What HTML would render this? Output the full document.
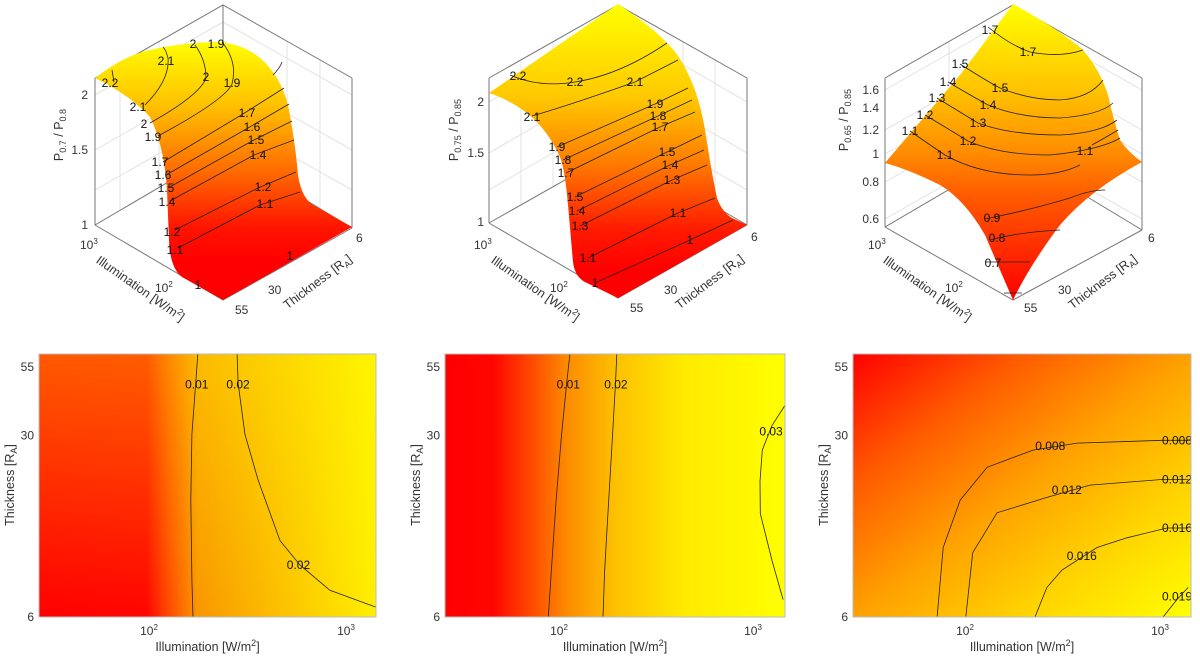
<!DOCTYPE html>
<html><head><meta charset="utf-8">
<style>
html,body{margin:0;padding:0;background:#fff;}
svg{display:block;font-family:"Liberation Sans",Arial,sans-serif;}
.tk{font-size:12px;fill:#333;}
.al{font-size:12.5px;fill:#333;}
.cl{font-size:12px;fill:#111;}
.box{stroke:#777;stroke-width:1;fill:none;}
.grid{stroke:#ddd;stroke-width:0.8;fill:none;}
.ct{stroke:#222;stroke-width:0.8;fill:none;}
</style></head>
<body>
<svg id="fig" width="1200" height="660" viewBox="0 0 1200 660">
<defs>
<linearGradient id="s1" x1="0" y1="40" x2="0" y2="260" gradientUnits="userSpaceOnUse">
<stop offset="0" stop-color="#ffff00"/><stop offset="0.3" stop-color="#ffc000"/><stop offset="0.6" stop-color="#ff6a00"/><stop offset="0.85" stop-color="#ff1500"/><stop offset="1" stop-color="#ff0000"/></linearGradient>
<linearGradient id="s2" x1="0" y1="5" x2="0" y2="270" gradientUnits="userSpaceOnUse">
<stop offset="0" stop-color="#ffff00"/><stop offset="0.35" stop-color="#ffc800"/><stop offset="0.6" stop-color="#ff7a00"/><stop offset="0.85" stop-color="#ff1a00"/><stop offset="1" stop-color="#ff0000"/></linearGradient>
<linearGradient id="s3" x1="0" y1="5" x2="0" y2="300" gradientUnits="userSpaceOnUse">
<stop offset="0" stop-color="#ffff00"/><stop offset="0.3" stop-color="#ffc000"/><stop offset="0.5" stop-color="#ff8c00"/><stop offset="0.65" stop-color="#ff5a00"/><stop offset="1" stop-color="#ff0000"/></linearGradient>
<linearGradient id="h1" x1="0" y1="0" x2="1" y2="0">
<stop offset="0" stop-color="#ff0000"/><stop offset="0.32" stop-color="#ff0500"/><stop offset="0.38" stop-color="#ff4500"/><stop offset="0.47" stop-color="#fa9600"/><stop offset="0.62" stop-color="#fbb000"/><stop offset="0.82" stop-color="#fdd200"/><stop offset="1" stop-color="#fff000"/></linearGradient>
<linearGradient id="h1v" x1="0" y1="0" x2="0" y2="1">
<stop offset="0" stop-color="#ffff00" stop-opacity="0.35"/><stop offset="1" stop-color="#ffff00" stop-opacity="0"/></linearGradient>
<linearGradient id="h2" x1="0" y1="0" x2="1" y2="0">
<stop offset="0" stop-color="#ff0000"/><stop offset="0.14" stop-color="#ff0500"/><stop offset="0.22" stop-color="#ff3500"/><stop offset="0.36" stop-color="#fd8c00"/><stop offset="0.5" stop-color="#fdc000"/><stop offset="0.7" stop-color="#ffea00"/><stop offset="1" stop-color="#ffff00"/></linearGradient>
<linearGradient id="h3" x1="0" y1="0" x2="1" y2="1">
<stop offset="0" stop-color="#ff0000"/><stop offset="0.25" stop-color="#ff5a00"/><stop offset="0.5" stop-color="#ffa000"/><stop offset="0.75" stop-color="#ffd400"/><stop offset="1" stop-color="#ffff00"/></linearGradient>
</defs>

<!-- ===== 3D panel 1 ===== -->
<g>
<g class="grid"><path d="M95,95 L223,22 L352,95 M95,150 L223,77 L352,150 M95,190 L223,117 L352,190 M159,42 L159,188 M287,42 L287,190 M120,64 L120,211 M320,60 L320,210"/></g>
<path class="box" d="M95,78 L223,5 L352,78 M95,78 L95,225 M352,78 L352,228 M95,225 L223,150 L352,228 M223,5 L223,150 M95,225 L223,300 L352,228"/>
<path fill="url(#s1)" d="M95,78 Q125,55 150,50 Q185,42 220,42 Q245,45 260,58 Q280,75 288,105 Q295,140 298,175 Q302,200 315,206 L352,227 L223,300 L182,277 Q170,268 169,240 L167,190 Q164,145 150,117 Q130,95 95,78 Z"/>
<path class="ct" d="M163,162 L243,114 L284,88 M166,175 L248,128 L289,104 M168,188 L252,141 L292,121 M170,201 L254,155 L294,140 M175,230 L258,188 L296,172 M178,248 L260,205 L300,192 M145,105 Q170,80 168,58 Q166,50 163,47 M150,123 Q200,95 206,78 Q206,60 195,45 M158,136 Q225,100 232,84 Q238,62 222,42 M112,70 L114,82 M273,75 Q280,68 282,62"/>
<g id="lab3d1"></g>
<text class="tk" x="88" y="99" text-anchor="end">2</text>
<text class="tk" x="88" y="154" text-anchor="end">1.5</text>
<text class="tk" x="88" y="229" text-anchor="end">1</text>
<text class="al" transform="translate(63,135) rotate(-90)" text-anchor="middle">P<tspan font-size="9" dy="3">0.7</tspan><tspan dy="-3"> / P</tspan><tspan font-size="9" dy="3">0.8</tspan></text>
<text class="tk" x="80" y="249">10<tspan font-size="8" dy="-5">3</tspan></text>
<text class="tk" x="155" y="292">10<tspan font-size="8" dy="-5">2</tspan></text>
<text class="tk" x="356" y="242">6</text>
<text class="tk" x="268" y="294">30</text>
<text class="tk" x="235" y="314">55</text>
<text class="al" transform="translate(138,292) rotate(35)" text-anchor="middle">Illumination [W/m<tspan font-size="9" dy="-5">2</tspan><tspan dy="5">]</tspan></text>
<text class="al" transform="translate(320,285) rotate(-37)" text-anchor="middle">Thickness [R<tspan font-size="9" dy="3">A</tspan><tspan dy="-3">]</tspan></text>
</g>

<!-- ===== 3D panel 2 ===== -->
<g>
<g class="grid"><path d="M489,102 L618,27 L747,102 M489,153 L618,78 L747,153 M489,190 L618,115 L747,190 M553,42 L553,188 M683,42 L683,188 M521,62 L521,205 M715,60 L715,208"/></g>
<path class="box" d="M489,78 L618,5 L747,78 M489,78 L489,223 M747,78 L747,225 M489,223 L618,150 L747,225 M618,5 L618,150 M489,223 L618,298 L747,225"/>
<path fill="url(#s2)" d="M489,93 L618,4 Q650,25 667,43 Q680,55 690,78 Q700,100 705,130 Q712,175 717,198 Q722,212 732,218 L747,225 L618,298 L587,283 Q575,278 573,262 L568,205 Q565,170 560,157 Q548,130 527,113 Q510,100 489,93 Z"/>
<path class="ct" d="M510,75 Q540,88 575,82 Q620,75 667,43 M532,116 Q570,105 635,82 L678,60 M557,147 L655,104 L688,88 M563,160 L658,116 L692,100 M566,173 L660,127 L695,112 M575,197 L667,152 L702,135 M577,211 L670,165 L704,150 M580,226 L672,180 L707,165 M588,258 L678,213 L715,198 M595,283 L690,240 L733,220"/>
<g id="lab3d2"></g>
<text class="tk" x="484" y="106" text-anchor="end">2</text>
<text class="tk" x="484" y="157" text-anchor="end">1.5</text>
<text class="tk" x="484" y="226" text-anchor="end">1</text>
<text class="al" transform="translate(458,130) rotate(-90)" text-anchor="middle">P<tspan font-size="9" dy="3">0.75</tspan><tspan dy="-3"> / P</tspan><tspan font-size="9" dy="3">0.85</tspan></text>
<text class="tk" x="474" y="249">10<tspan font-size="8" dy="-5">3</tspan></text>
<text class="tk" x="550" y="292">10<tspan font-size="8" dy="-5">2</tspan></text>
<text class="tk" x="751" y="241">6</text>
<text class="tk" x="664" y="294">30</text>
<text class="tk" x="630" y="312">55</text>
<text class="al" transform="translate(533,292) rotate(35)" text-anchor="middle">Illumination [W/m<tspan font-size="9" dy="-5">2</tspan><tspan dy="5">]</tspan></text>
<text class="al" transform="translate(712,285) rotate(-37)" text-anchor="middle">Thickness [R<tspan font-size="9" dy="3">A</tspan><tspan dy="-3">]</tspan></text>
</g>

<!-- ===== 3D panel 3 ===== -->
<g>
<g class="grid"><path d="M885,90 L1013,17 L1142,90 M885,130 L1013,57 L1142,130 M885,154 L1013,81 L1142,154 M885,182 L1013,109 L1142,182 M885,219 L1013,146 L1142,219 M949,42 L949,188 M1078,42 L1078,190"/></g>
<path class="box" d="M885,78 L1013,5 L1142,78 M885,78 L885,227 M1142,78 L1142,230 M885,227 L1013,152 L1142,230 M1013,5 L1013,152 M885,227 L1013,300 L1142,230"/>
<path fill="url(#s3)" d="M1013,4 Q1060,30 1083,50 Q1100,70 1108,95 Q1115,125 1120,140 Q1128,152 1142,162 Q1090,190 1060,225 Q1030,265 1013,300 Q1000,270 985,235 Q965,200 940,185 Q910,170 885,163 Q930,110 960,75 Q990,35 1013,4 Z"/>
<path class="ct" d="M988,27 Q1010,45 1030,52 Q1060,58 1083,50 M960,64 Q985,80 1000,88 Q1030,100 1060,100 Q1090,98 1103,80 M948,82 Q970,95 988,105 Q1020,118 1060,118 Q1100,115 1113,103 M937,98 Q960,112 978,123 Q1010,135 1060,135 Q1100,133 1117,120 M925,115 Q950,130 968,141 Q1000,155 1050,155 Q1100,150 1120,138 M910,131 Q930,145 945,155 Q980,175 1030,175 Q1060,175 1080,165 M1092,145 Q1110,135 1118,130 M985,219 Q1030,210 1070,198 Q1090,190 1105,190 M990,240 Q1020,232 1060,230 M985,262 L1030,262 M1004,293 L1022,293"/>
<g id="lab3d3"></g>
<text class="tk" x="879" y="94" text-anchor="end">1.6</text>
<text class="tk" x="879" y="112" text-anchor="end">1.4</text>
<text class="tk" x="879" y="134" text-anchor="end">1.2</text>
<text class="tk" x="879" y="158" text-anchor="end">1</text>
<text class="tk" x="879" y="186" text-anchor="end">0.8</text>
<text class="tk" x="879" y="223" text-anchor="end">0.6</text>
<text class="al" transform="translate(848,120) rotate(-90)" text-anchor="middle">P<tspan font-size="9" dy="3">0.65</tspan><tspan dy="-3"> / P</tspan><tspan font-size="9" dy="3">0.85</tspan></text>
<text class="tk" x="868" y="249">10<tspan font-size="8" dy="-5">3</tspan></text>
<text class="tk" x="945" y="292">10<tspan font-size="8" dy="-5">2</tspan></text>
<text class="tk" x="1148" y="242">6</text>
<text class="tk" x="1058" y="294">30</text>
<text class="tk" x="1024" y="312">55</text>
<text class="al" transform="translate(925,292) rotate(35)" text-anchor="middle">Illumination [W/m<tspan font-size="9" dy="-5">2</tspan><tspan dy="5">]</tspan></text>
<text class="al" transform="translate(1105,285) rotate(-37)" text-anchor="middle">Thickness [R<tspan font-size="9" dy="3">A</tspan><tspan dy="-3">]</tspan></text>
</g>

<g id="heat1"></g>
<g id="heat2"></g>
<g id="heat3"></g>
</svg>

<script>
// ---- 3D contour labels (text, x, y) ----
const labels3d1 = [["2.2",110,87],["2.1",166,65],["2",193,48],["1.9",216,48],["2",206,81],["1.9",232,87],["2.1",138,111],["2",144,128],["1.9",153,141],["1.7",247,117],["1.6",252,131],["1.5",256,144],["1.4",258,159],["1.7",160,166],["1.6",163,179],["1.5",166,192],["1.4",167,206],["1.2",263,191],["1.1",265,208],["1.2",172,236],["1.1",175,254],["1",198,289],["1",290,260]];
const labels3d2 = [["2.2",518,80],["2.2",575,86],["2.1",635,86],["2.1",532,121],["1.9",655,108],["1.8",658,120],["1.7",660,131],["1.9",557,151],["1.8",563,164],["1.7",566,177],["1.5",667,156],["1.4",670,169],["1.3",672,184],["1.5",575,201],["1.4",577,215],["1.3",580,230],["1.1",678,217],["1",690,244],["1.1",588,262],["1",595,287]];
const labels3d3 = [["1.7",990,34],["1.7",1028,56],["1.5",960,68],["1.5",1000,92],["1.4",948,86],["1.4",988,109],["1.3",937,102],["1.3",978,127],["1.2",925,119],["1.2",968,145],["1.1",910,135],["1.1",945,159],["1.1",1085,155],["0.9",992,222],["0.8",997,242],["0.7",993,267]];

// ---- Heatmap 1 contours: [illumination W/m2, thickness RA] ----
const h1c001 = [[165,61.6],[161,47.6],[154,30.3],[152,16.9],[154,8.3],[156,6]];
const h1c002 = [[261,61.6],[264,47.6],[286,30.3],[333,20.3],[431,11.8],[545,9.5],[772,7.6],[1323,6.55]];
const h1labels = [["0.01",163,47],["0.02",264,47],["0.02",535,9.5]];
// ---- Heatmap 2 contours ----
const h2c001 = [[106,61.6],[102,47.6],[96,30.3],[90,16.9],[85,9],[82,6]];
const h2c002 = [[185,61.6],[182,47.6],[176,30.3],[168,16.9],[160,9],[157,6]];
const h2c003 = [[1362,39.1],[1167,32.7],[1040,26.3],[1012,20],[1015,15],[1167,9.9],[1331,7.0]];
const h2labels = [["0.01",104,47],["0.02",183,47],["0.03",1170,31]];
// ---- Heatmap 3 contours ----
const h3c008 = [[67,6],[72,11.1],[88,16.9],[121,22.6],[208,26.3],[350,28],[966,28.7],[1300,28.7]];
const h3c012 = [[94,6],[102,10.6],[136,15.1],[245,17.3],[407,19.3],[966,20.3],[1300,20.3]];
const h3c016 = [[213,6],[245,7.8],[293,9.1],[443,11.1],[631,12.1],[1012,13.2],[1300,13.2]];
const h3c019 = [[966,6],[1138,7.0],[1300,7.8]];
const h3labels = [["0.008",255,27.3],["0.008",1180,28.7],["0.012",310,18.5],["0.012",1190,20.3],["0.016",370,10.3],["0.016",1200,13.2],["0.019",1200,7.2]];

const yTicks = [55,30,6];
const xTicks = [100,1000];
const NS = "http://www.w3.org/2000/svg";

function mk(tag, attrs, parent){
  const e = document.createElementNS(NS, tag);
  for (const k in attrs) e.setAttribute(k, attrs[k]);
  parent.appendChild(e);
  return e;
}

function draw3dLabels(id, arr){
  const g = document.getElementById(id);
  arr.forEach(l => {
    const t = mk('text', {x:l[1], y:l[2], 'class':'cl', 'text-anchor':'middle'}, g);
    
    
    t.textContent = l[0];
  });
}
draw3dLabels('lab3d1', labels3d1);
draw3dLabels('lab3d2', labels3d2);
draw3dLabels('lab3d3', labels3d3);

function heat(id, x0, x1, pxAt100, pxPerDec, grad, contours, labels, overlay){
  const g = document.getElementById(id);
  const y0 = 354, y1 = 617;
  const sx = v => pxAt100 + (Math.log10(v) - 2) * pxPerDec;
  const sy = t => y1 - (Math.log10(t) - Math.log10(6)) * 260;
  const cp = mk('clipPath', {id: id + 'clip'}, g);
  mk('rect', {x:x0, y:y0, width:x1-x0, height:y1-y0}, cp);
  const bg = mk('rect', {x:x0, y:y0, width:x1-x0, height:y1-y0, fill:'url(#' + grad + ')'}, g);
  
  
  if (overlay) mk('rect', {x:x0, y:y0, width:x1-x0, height:y1-y0, fill:'url(#' + overlay + ')'}, g);
  const cg = mk('g', {'clip-path':'url(#' + id + 'clip)'}, g);
  contours.forEach(c => {
    const d = c.map((p,i) => (i ? 'L' : 'M') + sx(p[0]).toFixed(1) + ',' + sy(p[1]).toFixed(1)).join(' ');
    const p = mk('path', {d:d, 'class':'ct'}, cg);
    
    
  });
  labels.forEach(l => {
    const t = mk('text', {x:Math.min(sx(l[1]), x1 - 14), y:sy(l[2]) + 4, 'class':'cl', 'text-anchor':'middle', 'font-size':'12'}, g);
    
    
    t.textContent = l[0];
  });
  const fr = mk('rect', {x:x0, y:y0, width:x1-x0, height:y1-y0, fill:'none', stroke:'#bbb', 'stroke-width':1}, g);
  
  
  yTicks.forEach(v => {
    const t = mk('text', {x:x0 - 5, y:sy(v) + 4, 'class':'tk', 'text-anchor':'end'}, g);
    
    
    t.textContent = v;
  });
  xTicks.forEach(v => {
    const t = mk('text', {x:sx(v) - 6, y:635, 'class':'tk', 'text-anchor':'middle'}, g);
    
    
    t.textContent = '10';
    const s = mk('tspan', {'font-size':'8', dy:'-5'}, t);
    s.textContent = Math.round(Math.log10(v));
  });
  const xl = mk('text', {x:(x0 + x1) / 2, y:651, 'class':'al', 'text-anchor':'middle'}, g);
  
  
  xl.appendChild(document.createTextNode('Illumination [W/m'));
  const s2 = mk('tspan', {'font-size':'9', dy:'-5'}, xl); s2.textContent = '2';
  const s3 = mk('tspan', {dy:'5'}, xl); s3.textContent = ']';
  const yl = mk('text', {transform:'translate(' + (x0 - 25) + ',485) rotate(-90)', 'class':'al', 'text-anchor':'middle'}, g);
  
  
  yl.appendChild(document.createTextNode('Thickness [R'));
  const a1 = mk('tspan', {'font-size':'9', dy:'3'}, yl); a1.textContent = 'A';
  const a2 = mk('tspan', {dy:'-3'}, yl); a2.textContent = ']';
}

heat('heat1', 39, 376, 155, 197, 'h1', [h1c001, h1c002], h1labels, 'h1v');
heat('heat2', 445, 785, 565, 194, 'h2', [h2c001, h2c002, h2c003], h2labels, null);
heat('heat3', 853, 1191, 971, 195, 'h3', [h3c008, h3c012, h3c016, h3c019], h3labels, null);
</script>
</body></html>
